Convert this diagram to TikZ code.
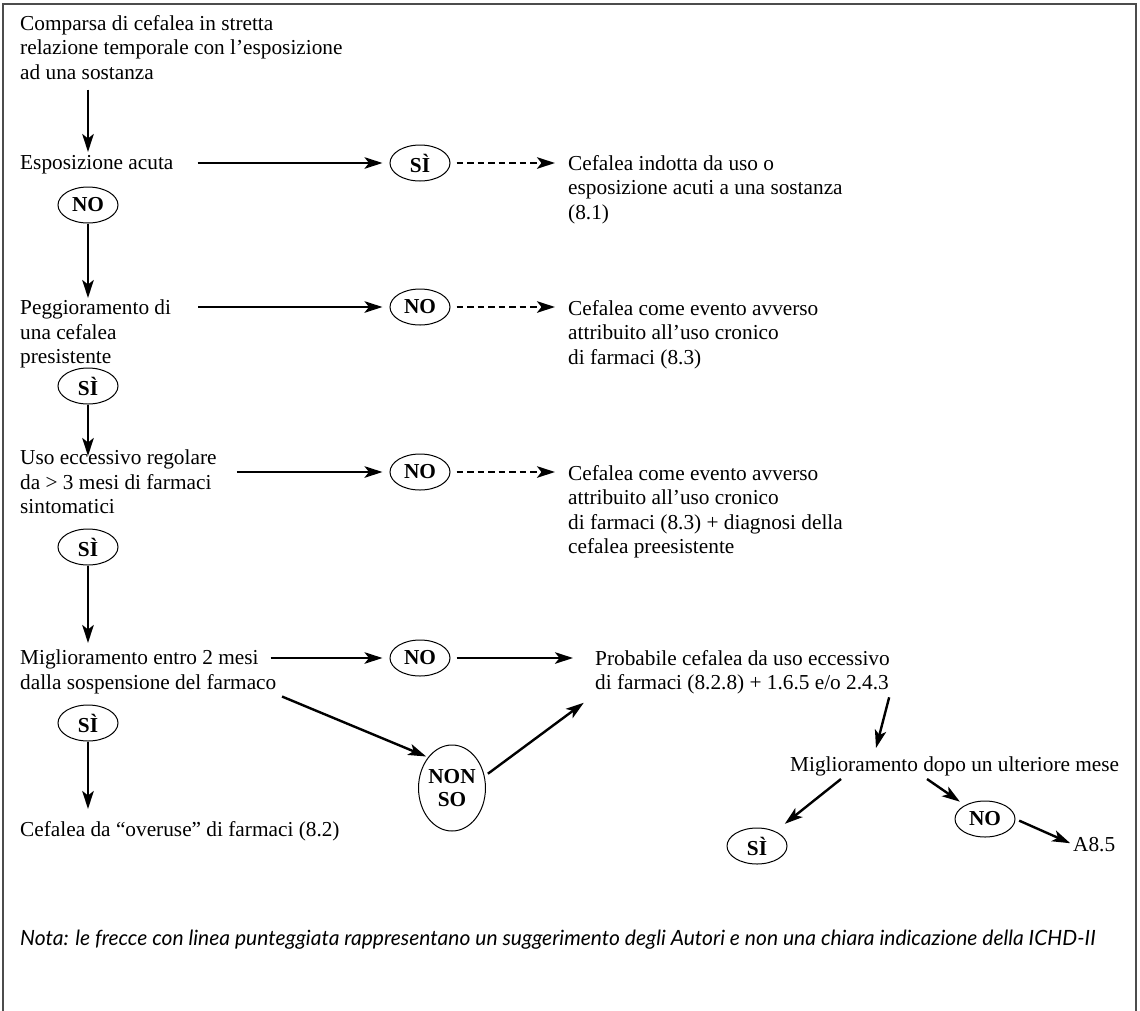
\documentclass[tikz,border=0pt]{standalone}
\usepackage{fontspec}
\setmainfont{Liberation Serif}
\newfontfamily\notefont{Lato}
\usepackage{graphicx}
\usetikzlibrary{arrows.meta,shapes.geometric}
\begin{document}
\begin{tikzpicture}[x=1pt,y=-1pt,
 txt/.style={font=\fontsize{21.3}{24.5}\selectfont, align=left, anchor=north west, inner sep=0pt},
 yn/.style={draw, ellipse, line width=1pt, minimum width=60pt, minimum height=36pt, inner sep=0pt, font=\fontsize{21.3}{23}\selectfont\bfseries},
 arr/.style={line width=2.4pt, -{Stealth[length=18pt,width=11.5pt,inset=4.5pt]}},
 darr/.style={arr, dash pattern=on 6.5pt off 4pt},
 frame/.style={line width=2pt, draw=black!70},
]
\useasboundingbox (0,0) rectangle (1140,1010);
\draw[frame] (3,1012) -- (3,4) -- (1136,4) -- (1136,1012);

% left column
\node[txt] (tit) at (20,15) {Comparsa di cefalea in stretta\\relazione temporale con l’esposizione\\ad una sostanza};
\node[txt] (e1) at (20,155) {Esposizione acuta};
\node[yn] (no1) at (88,205) {NO};
\node[txt] (e2) at (20,300) {Peggioramento di\\una cefalea\\presistente};
\node[yn] (s2) at (88,386) {SÌ};
\node[txt] (e3) at (20,450) {Uso eccessivo regolare\\da > 3 mesi di farmaci\\sintomatici};
\node[yn] (s3) at (88,547) {SÌ};
\node[txt] (e4) at (20,650) {Miglioramento entro 2 mesi\\dalla sospensione del farmaco};
\node[yn] (s4) at (88,723) {SÌ};
\node[txt] (f4) at (20,821) {Cefalea da “overuse” di farmaci (8.2)};

% middle column
\node[yn] (s1) at (420,163) {SÌ};
\node[yn] (n2) at (420,307) {NO};
\node[yn] (n3) at (420,472) {NO};
\node[yn] (n4) at (420,658) {NO};
\node[yn, minimum width=66pt, minimum height=86pt, align=center] (ns) at (452,788) {NON\\SO};

% right column
\node[txt] (r1) at (568,155) {Cefalea indotta da uso o\\esposizione acuti a una sostanza\\(8.1)};
\node[txt] (r2) at (568,300) {Cefalea come evento avverso\\attribuito all’uso cronico\\di farmaci (8.3)};
\node[txt] (r3) at (568,465) {Cefalea come evento avverso\\attribuito all’uso cronico\\di farmaci (8.3) + diagnosi della\\cefalea preesistente};
\node[txt] (r4) at (595,650) {Probabile cefalea da uso eccessivo\\di farmaci (8.2.8) + 1.6.5 e/o 2.4.3};
\node[txt] (m5) at (790,757) {Miglioramento dopo un ulteriore mese};
\node[yn] (s5) at (757,846) {SÌ};
\node[yn] (n5) at (985,819) {NO};
\node[txt] (a85) at (1073,837) {A8.5};

\node[anchor=west, inner sep=0pt, font=\notefont\itshape] (note) at (20,940)
 {\resizebox{1075pt}{!}{Nota: le frecce con linea punteggiata rappresentano un suggerimento degli Autori e non una chiara indicazione della ICHD-II}};

% free ends near text
\coordinate (t1) at (876,748);
\coordinate (m5a) at (841,779);
\coordinate (m5b) at (927,779);

% connectors
\draw[arr, shorten <=10pt, shorten >=3pt] (tit.south -| no1) -- (e1.north -| no1);
\draw[arr, shorten <=24pt, shorten >=7pt] (e1.east |- s1.west) -- (s1.west);
\draw[darr, shorten <=6pt, shorten >=13pt] (s1.east) -- (r1.west |- s1.east);
\draw[arr, shorten >=2pt] (no1.south) -- (e2.north -| no1);
\draw[arr, shorten <=27pt, shorten >=7pt] (e2.east |- n2.west) -- (n2.west);
\draw[darr, shorten <=6pt, shorten >=13pt] (n2.east) -- (r2.west |- n2.east);
\draw[arr, shorten >=-6pt] (s2.south) -- (e3.north -| s2);
\draw[arr, shorten <=20pt, shorten >=7pt] (e3.east |- n3.west) -- (n3.west);
\draw[darr, shorten <=6pt, shorten >=13pt] (n3.east) -- (r3.west |- n3.east);
\draw[arr, shorten >=7pt] (s3.south) -- (e4.north -| s3);
\draw[arr, shorten <=-6pt, shorten >=7pt] (e4.east |- n4.west) -- (n4.west);
\draw[arr, shorten <=6pt, shorten >=22pt] (n4.east) -- (r4.west |- n4.east);
\draw[arr, shorten <=6pt, shorten >=2pt] (e4.south east) -- (ns.north west);
\draw[arr, shorten <=4pt, shorten >=14pt] (ns.20) -- (r4.south west);
\draw[arr, shorten >=12pt] (s4.south) -- (f4.north -| s4);
\draw[arr, shorten <=3pt] (r4.south east) -- (t1);
\draw[arr, shorten >=12pt] (m5a) -- (s5);
\draw[arr, shorten >=6pt] (m5b) -- (n5);
\draw[arr, shorten <=4pt, shorten >=3pt] (n5.east) -- (a85.west);
\end{tikzpicture}
\end{document}
